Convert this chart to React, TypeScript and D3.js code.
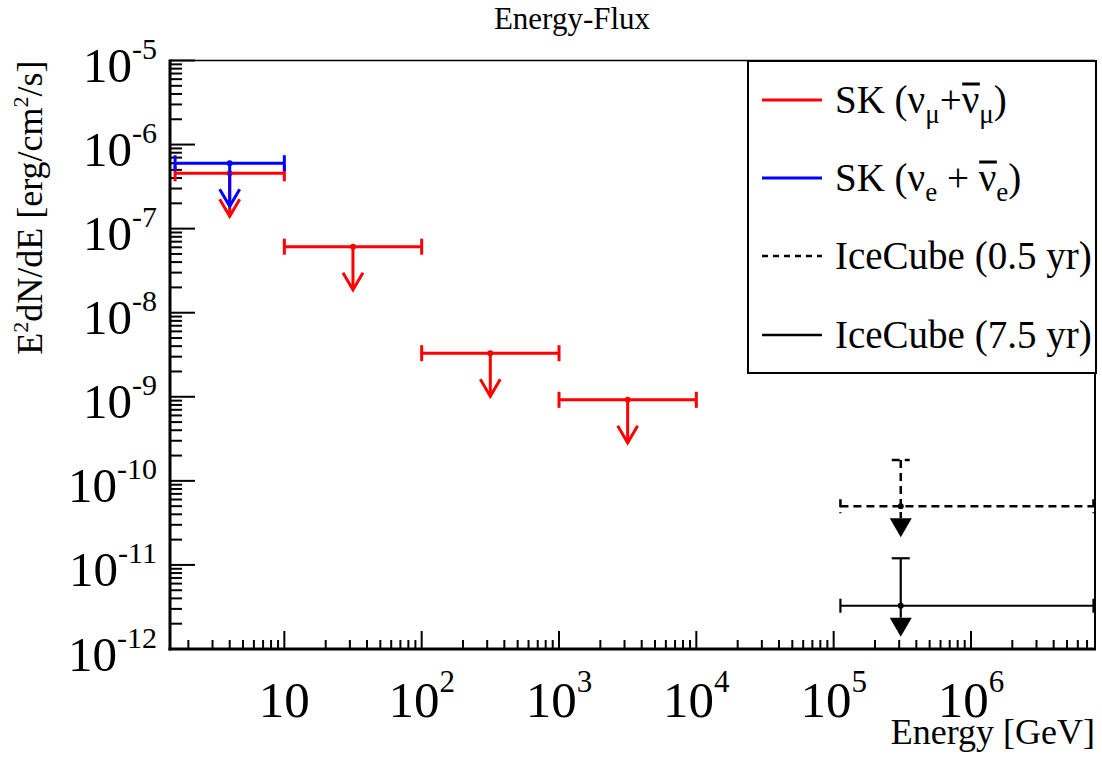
import React, { useLayoutEffect, useRef, useState } from 'react';
import * as d3 from 'd3';

// ---------- data ----------
const skMuCenter = [4, 31.6, 316, 3162];
const skMuLow = [1.6, 10, 100, 1000];
const skMuHigh = [10, 100, 1000, 10000];
const skMuLimit = [4.55e-7, 6.1e-8, 3.3e-9, 9.2e-10];

const skECenter = [4];
const skELow = [1.6];
const skEHigh = [10];
const skELimit = [6.0e-7];

const ic05Center = [3.08e5];
const ic05Low = [1.12e5];
const ic05High = [7.8e6];
const ic05Value = [5.0e-11];
const ic05Upper = [1.77e-10];

const ic75Center = [3.08e5];
const ic75Low = [1.12e5];
const ic75High = [7.8e6];
const ic75Value = [3.27e-12];
const ic75Upper = [1.2e-11];

const xTickExps = [1, 2, 3, 4, 5, 6];
const yTickExps = [-5, -6, -7, -8, -9, -10, -11, -12];

const xDomain = [1.47, 8.0e6];
const yDomain = [1e-12, 1e-5];

// ---------- layout ----------
const W = 1102;
const H = 761;
const L = 170;
const R = 1095;
const T = 60.5;
const B = 649;
const FONT = 'Liberation Serif';

const RED = '#ff0000';
const BLUE = '#0000ff';

type Series = { c: number[]; lo: number[]; hi: number[]; v: number[] };
type Bar = { x1: number; x2: number; y: number };

export default function App() {
  const x = d3.scaleLog().domain(xDomain).range([L, R]);
  const y = d3.scaleLog().domain(yDomain).range([B, T]);

  const isMajor = (v: number) => Math.abs(Math.log10(v) - Math.round(Math.log10(v))) < 1e-9;
  const xTicks = x.ticks().filter((t) => t >= xDomain[0] && t <= xDomain[1]);
  const yTicks = y.ticks().filter((t) => t >= yDomain[0] && t <= yDomain[1]);

  const textRefs = useRef<(SVGTextElement | null)[]>([]);
  const [bars, setBars] = useState<Bar[]>([]);

  useLayoutEffect(() => {
    const out: Bar[] = [];
    textRefs.current.forEach((el) => {
      if (!el) return;
      const s = el.textContent || '';
      const idx = s.lastIndexOf('ν');
      if (idx <= s.indexOf('ν')) return;
      try {
        const r = el.getExtentOfChar(idx);
        out.push({ x1: r.x + 0.5, x2: r.x + r.width + 0.5, y: r.y + r.height * 0.14 });
      } catch (e) {
        /* ignore */
      }
    });
    setBars(out);
  }, []);

  const skSeries = (s: Series, color: string, key: string) =>
    s.c.map((cx, i) => {
      const px = x(cx);
      const py = y(s.v[i]);
      const tip = py + 43;
      return (
        <g key={key + i} stroke={color} strokeWidth={3} fill="none">
          <line x1={x(s.lo[i])} x2={x(s.hi[i])} y1={py} y2={py} />
          <line x1={x(s.lo[i])} x2={x(s.lo[i])} y1={py - 8} y2={py + 8} />
          <line x1={x(s.hi[i])} x2={x(s.hi[i])} y1={py - 8} y2={py + 8} />
          <line x1={px} x2={px} y1={py} y2={tip} />
          <polyline points={`${px - 10},${tip - 17} ${px},${tip} ${px + 10},${tip - 17}`} />
          <circle cx={px} cy={py} r={3} fill={color} stroke="none" />
        </g>
      );
    });

  const icSeries = (s: Series, up: number[], dash: string | undefined, sw: number, key: string) =>
    s.c.map((cx, i) => {
      const px = x(cx);
      const py = y(s.v[i]);
      const pu = y(up[i]);
      const triTop = py + 12;
      const tip = py + 31;
      return (
        <g key={key + i} stroke="#000" strokeWidth={sw} fill="none" strokeDasharray={dash}>
          <line x1={x(s.lo[i])} x2={x(s.hi[i])} y1={py} y2={py} />
          <line x1={x(s.lo[i])} x2={x(s.lo[i])} y1={py - 7} y2={py + 7} />
          <line x1={x(s.hi[i])} x2={x(s.hi[i])} y1={py - 7} y2={py + 7} />
          <line x1={px} x2={px} y1={pu} y2={triTop} />
          <line x1={px - 9} x2={px + 9} y1={pu} y2={pu} />
          <polygon
            points={`${px - 11},${triTop} ${px + 11},${triTop} ${px},${tip}`}
            fill="#000"
            stroke="none"
          />
          <circle cx={px} cy={py} r={3} fill="#000" stroke="none" />
        </g>
      );
    });

  const legendRows = [
    { color: RED, dash: undefined as string | undefined, sw: 3, kind: 'mu' },
    { color: BLUE, dash: undefined, sw: 3, kind: 'e' },
    { color: '#000', dash: '6,5', sw: 2.5, kind: 'ic05' },
    { color: '#000', dash: undefined, sw: 2.5, kind: 'ic75' },
  ];
  const legendY = [100, 178, 256, 335];

  const legendText = (kind: string) => {
    if (kind === 'mu')
      return (
        <>
          <tspan>SK (ν</tspan>
          <tspan dy={10} fontSize={27}>μ</tspan>
          <tspan dy={-10}>+ν</tspan>
          <tspan dy={10} fontSize={27}>μ</tspan>
          <tspan dy={-10}>)</tspan>
        </>
      );
    if (kind === 'e')
      return (
        <>
          <tspan>SK (ν</tspan>
          <tspan dy={10} fontSize={27}>e</tspan>
          <tspan dy={-10}> + ν</tspan>
          <tspan dy={10} fontSize={27}>e</tspan>
          <tspan dy={-10}>)</tspan>
        </>
      );
    if (kind === 'ic05') return <tspan>IceCube (0.5 yr)</tspan>;
    return <tspan>IceCube (7.5 yr)</tspan>;
  };

  return (
    <svg
      width={W}
      height={H}
      viewBox={`0 0 ${W} ${H}`}
      style={{ position: 'absolute', left: 0, top: 0, background: '#fff' }}
      fontFamily={FONT}
    >
      <rect x={0} y={0} width={W} height={H} fill="#fff" />

      {/* title */}
      <text x={572} y={29} textAnchor="middle" fontSize={31} fontFamily={FONT}>
        Energy-Flux
      </text>

      {/* frame */}
      <line x1={L} x2={R} y1={T} y2={T} stroke="#000" strokeWidth={1.5} />
      <line x1={R} x2={R} y1={T} y2={B} stroke="#000" strokeWidth={2} />

      {/* y ticks */}
      {yTicks.map((t, i) => (
        <line
          key={'yt' + i}
          x1={L}
          x2={L + (isMajor(t) ? 25 : 12)}
          y1={y(t)}
          y2={y(t)}
          stroke="#000"
          strokeWidth={2}
        />
      ))}
      {/* x ticks */}
      {xTicks.map((t, i) => (
        <line
          key={'xt' + i}
          x1={x(t)}
          x2={x(t)}
          y1={B}
          y2={B - (isMajor(t) ? 18 : 9)}
          stroke="#000"
          strokeWidth={2}
        />
      ))}

      {/* axes */}
      <line x1={L} x2={L} y1={T - 1} y2={B + 1.5} stroke="#000" strokeWidth={3} />
      <line x1={L - 1.5} x2={R + 1} y1={B} y2={B} stroke="#000" strokeWidth={3} />

      {/* y tick labels */}
      {yTickExps.map((e) => (
        <text
          key={'yl' + e}
          x={157}
          y={y(Math.pow(10, e)) + 21.5}
          textAnchor="end"
          fontSize={49}
          fontFamily={FONT}
        >
          <tspan>10</tspan>
          <tspan dy={-23} fontSize={30}>
            {String(e)}
          </tspan>
        </text>
      ))}
      {/* x tick labels */}
      {xTickExps.map((e) => (
        <text
          key={'xl' + e}
          x={x(Math.pow(10, e))}
          y={717}
          textAnchor="middle"
          fontSize={51}
          fontFamily={FONT}
        >
          <tspan>10</tspan>
          {e !== 1 && (
            <tspan dy={-25} fontSize={31}>
              {String(e)}
            </tspan>
          )}
        </text>
      ))}

      {/* axis titles */}
      <text x={R} y={744} textAnchor="end" fontSize={36} fontFamily={FONT}>
        Energy [GeV]
      </text>
      <text
        transform={`translate(42,${T}) rotate(-90)`}
        textAnchor="end"
        fontSize={36}
        fontFamily={FONT}
      >
        <tspan>E</tspan>
        <tspan dy={-14} fontSize={22}>
          2
        </tspan>
        <tspan dy={14}>dN/dE [erg/cm</tspan>
        <tspan dy={-14} fontSize={22}>
          2
        </tspan>
        <tspan dy={14}>/s]</tspan>
      </text>

      {/* data */}
      {skSeries({ c: skMuCenter, lo: skMuLow, hi: skMuHigh, v: skMuLimit }, RED, 'mu')}
      {skSeries({ c: skECenter, lo: skELow, hi: skEHigh, v: skELimit }, BLUE, 'e')}
      {icSeries({ c: ic05Center, lo: ic05Low, hi: ic05High, v: ic05Value }, ic05Upper, '8,5', 2.5, 'ic05')}
      {icSeries({ c: ic75Center, lo: ic75Low, hi: ic75High, v: ic75Value }, ic75Upper, undefined, 2.2, 'ic75')}

      {/* legend */}
      <rect x={748} y={61} width={348} height={312} fill="#fff" stroke="#000" strokeWidth={2} />
      {legendRows.map((r, i) => (
        <g key={'lg' + i}>
          <line
            x1={762}
            x2={822}
            y1={legendY[i]}
            y2={legendY[i]}
            stroke={r.color}
            strokeWidth={r.sw}
            strokeDasharray={r.dash}
          />
          <text
            ref={(el) => {
              textRefs.current[i] = el;
            }}
            x={835}
            y={legendY[i] + 13}
            fontSize={39}
            fontFamily={FONT}
          >
            {legendText(r.kind)}
          </text>
        </g>
      ))}
      {bars.map((b, i) => (
        <line key={'bar' + i} x1={b.x1} x2={b.x2} y1={b.y} y2={b.y} stroke="#000" strokeWidth={3} />
      ))}
    </svg>
  );
}
